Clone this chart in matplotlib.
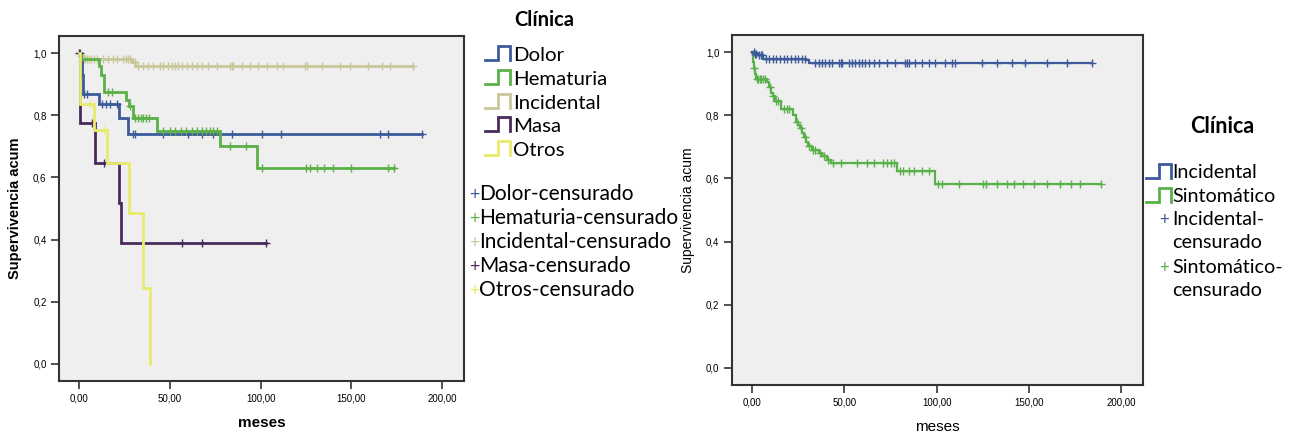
import numpy as np
import matplotlib
matplotlib.use("Agg")
import matplotlib.pyplot as plt
from matplotlib.lines import Line2D

# ---- datos ----
# Panel izquierdo: Clínica por síntoma
dolor_t = [0, 1, 1.5, 2, 11, 22, 27]
dolor_s = [1.0, 0.97, 0.93, 0.87, 0.835, 0.79, 0.74]
dolor_fin = 189
dolor_cens = [0.3, 2.7, 4.6, 12.8, 15, 17, 21, 29.5, 30.6, 46, 60, 68, 74, 84,
              101, 111.5, 166, 170, 189]

hemat_t = [0, 1, 11, 12, 14, 26, 27.5, 29.5, 43, 77.6, 98]
hemat_s = [1.0, 0.98, 0.96, 0.93, 0.875, 0.85, 0.83, 0.79, 0.75, 0.70, 0.63]
hemat_fin = 173.6
hemat_cens = [16, 18, 28, 31, 32.5, 34, 35.5, 37, 38.5, 46, 50, 53, 56, 59, 62,
              65, 68, 70, 72, 74, 76, 83, 92, 101, 125, 127, 131, 135, 140, 150,
              170, 173.6]

incid_t = [0, 0.5, 2, 29, 31]
incid_s = [1.0, 0.99, 0.98, 0.97, 0.96]
incid_fin = 184
incid_cens = [1.5, 2.5, 3.5, 4.5, 5.5, 6.5, 8, 10, 13, 16, 19, 21, 24, 26, 27, 28,
              30.8, 32.7, 35.4, 38.2, 40.9, 44.6, 46.4, 49.2, 51, 52.8, 54.7, 56.5,
              59.3, 62, 64.8, 67.5, 71.2, 75.8, 83.1, 84, 85, 89.5, 94, 98.7, 103.3,
              108.8, 112.5, 124.4, 125.3, 133.6, 143.7, 149.2, 159.3, 166.6, 171.2, 184]

masa_t = [0, 0.3, 0.6, 8.8, 22, 23]
masa_s = [1.0, 0.86, 0.775, 0.646, 0.517, 0.388]
masa_fin = 103
masa_cens = [0, 7, 14, 57, 67.5, 103]

otros_t = [0, 0.3, 0.6, 8.5, 15.6, 27.7, 35, 39]
otros_s = [1.0, 0.9, 0.837, 0.751, 0.646, 0.485, 0.243, 0.0]
otros_fin = 39
otros_cens = [6, 14]

# Panel derecho: Incidental vs Sintomático
inc2_t = [0, 1, 3, 6, 29, 31]
inc2_s = [1.0, 0.995, 0.99, 0.98, 0.975, 0.966]
inc2_fin = 184.3
inc2_cens = [0.9, 1.5, 2.2, 3.5, 4.5, 5.5, 7.2, 9, 11, 13, 15, 17, 19, 21, 23, 25,
             27, 28.5, 34.3, 36.1, 37.9, 39.7, 41.6, 43.4, 47, 47.9, 48.8, 52.4,
             54.2, 56, 57.8, 59.6, 61.4, 63.2, 65.9, 68.7, 73.2, 77.7, 83.1, 84,
             84.9, 88.5, 92.1, 95.8, 99.4, 104.8, 108.4, 110.2, 124.7, 132.8,
             140.9, 148.1, 159.9, 170.7, 184.3]

sint_t = [0, 0.5, 1, 1.5, 2, 8, 9, 10, 11, 12.6, 15.4, 22, 23.5, 25, 26, 27, 28,
          29, 30, 32.5, 36, 38, 40.6, 42.5, 78.6, 99]
sint_s = [1.0, 0.97, 0.95, 0.93, 0.916, 0.905, 0.89, 0.87, 0.86, 0.845, 0.82, 0.80,
          0.78, 0.77, 0.76, 0.745, 0.73, 0.715, 0.704, 0.69, 0.68, 0.67, 0.66,
          0.649, 0.624, 0.584]
sint_fin = 189
sint_cens = [1.2, 2.5, 3, 4, 5, 6, 7, 9.5, 11.5, 13, 14, 17, 19, 20, 24, 26.5, 28.5,
             31, 33, 34, 37, 39, 41, 44, 48, 57, 62, 66, 71, 73, 75, 77, 80, 82, 85,
             88, 92, 96, 101, 103, 112, 125, 127, 133, 138, 142, 147, 153, 160, 167,
             173, 178, 189]

x_ticks = [0, 50, 100, 150, 200]
x_labels = ["0,00", "50,00", "100,00", "150,00", "200,00"]
y_ticks = [0.0, 0.2, 0.4, 0.6, 0.8, 1.0]
y_labels = ["0,0", "0,2", "0,4", "0,6", "0,8", "1,0"]

izq_nombres = ["Dolor", "Hematuria", "Incidental", "Masa", "Otros"]
izq_colores = ["#3c5b9b", "#5cb048", "#c9c89c", "#4a2a5c", "#e8eb6e"]
der_nombres = ["Incidental", "Sintomático"]
der_colores = ["#3d5a9b", "#5ab04a"]

W, H = 1296, 436
fig = plt.figure(figsize=(W / 100, H / 100), dpi=100)
LEG_FONT = ["Lato", "DejaVu Sans"]


def px(x, y):
    return x / W, 1 - y / H


def curva(ax, t, s, fin, cens, color, lw):
    t = list(t) + [fin]
    s = list(s) + [s[-1]]
    ax.step(t, s, where="post", color=color, lw=lw, solid_joinstyle="miter")
    idx = np.searchsorted(np.array(t[:-1]), np.array(cens), side="right") - 1
    ys = np.array(s)[idx]
    ax.plot(cens, ys, ls="none", marker="+", color=color, ms=6, mew=1.0)


def estilo(ax, bold):
    ax.set_facecolor("#efefef")
    ax.set_xlim(-11, 212)
    ax.set_ylim(-0.055, 1.055)
    ax.set_xticks(x_ticks)
    ax.set_xticklabels(x_labels, fontsize=7, family="Liberation Sans")
    ax.set_yticks(y_ticks)
    ax.set_yticklabels(y_labels, fontsize=7, family="Liberation Sans")
    ax.tick_params(length=6, width=1.2, color="#333333", pad=3)
    for sp in ax.spines.values():
        sp.set_linewidth(1.5)
        sp.set_color("#333333")
    w = "bold" if bold else "normal"
    ax.set_xlabel("meses", fontsize=11, fontweight=w, family="Liberation Sans", labelpad=9)
    ax.set_ylabel("Supervivencia acum", fontsize=10.5 if bold else 10, fontweight=w,
                  family="Liberation Sans", labelpad=8)


def icono(x0, yb, color):
    xs = [x0, x0 + 13, x0 + 13, x0 + 25, x0 + 25]
    ys = [yb, yb, yb - 14, yb - 14, yb]
    fx = [px(a, 0)[0] for a in xs]
    fy = [px(0, b)[1] for b in ys]
    fig.add_artist(Line2D(fx, fy, color=color, lw=2, solid_joinstyle="miter"))


# ---- panel izquierdo ----
ax1 = fig.add_axes([59 / W, 1 - 381 / H, (464 - 59) / W, (381 - 36) / H])
datos_izq = [
    (dolor_t, dolor_s, dolor_fin, dolor_cens),
    (hemat_t, hemat_s, hemat_fin, hemat_cens),
    (incid_t, incid_s, incid_fin, incid_cens),
    (masa_t, masa_s, masa_fin, masa_cens),
    (otros_t, otros_s, otros_fin, otros_cens),
]
orden = [2, 0, 1, 3, 4]
for i in orden:
    t, s, fin, c = datos_izq[i]
    curva(ax1, t, s, fin, c, izq_colores[i], 2.0)
estilo(ax1, True)

# leyenda izquierda
fig.text(*px(514, 26), "Clínica", fontsize=14.5, fontweight="bold",
         family=LEG_FONT, va="baseline")
for k, (nom, col) in enumerate(zip(izq_nombres, izq_colores)):
    yb = 61 + k * 23.8
    icono(485, yb - 1, col)
    fig.text(*px(513, yb), nom, fontsize=14.7, family=LEG_FONT, va="baseline")
for k, (nom, col) in enumerate(zip(izq_nombres, izq_colores)):
    yb = 200 + k * 24.1
    fig.text(*px(469, yb), "+", fontsize=13, color=col, family=LEG_FONT, va="baseline")
    fig.text(*px(479, yb), nom + "-censurado", fontsize=15, family=LEG_FONT,
             va="baseline")

# ---- panel derecho ----
ax2 = fig.add_axes([732 / W, 1 - 385 / H, (1143 - 732) / W, (385 - 35) / H])
curva(ax2, sint_t, sint_s, sint_fin, sint_cens, der_colores[1], 1.6)
curva(ax2, inc2_t, inc2_s, inc2_fin, inc2_cens, der_colores[0], 1.6)
estilo(ax2, False)

fig.text(*px(1190, 133), "Clínica", fontsize=15.5, fontweight="bold",
         family=LEG_FONT, va="baseline")
for k, (nom, col) in enumerate(zip(der_nombres, der_colores)):
    yb = 178 + k * 24
    icono(1146, yb, col)
    fig.text(*px(1172, yb), nom, fontsize=14.2, family=LEG_FONT, va="baseline")
for k, (nom, col) in enumerate(zip(der_nombres, der_colores)):
    yb = 225 + k * 48
    fig.text(*px(1159, yb), "+", fontsize=12, color=col, family=LEG_FONT, va="baseline")
    fig.text(*px(1172, yb), nom + "-", fontsize=14.2, family=LEG_FONT, va="baseline")
    fig.text(*px(1172, yb + 23), "censurado", fontsize=14.2, family=LEG_FONT,
             va="baseline")

fig.savefig("out.png", dpi=100)
